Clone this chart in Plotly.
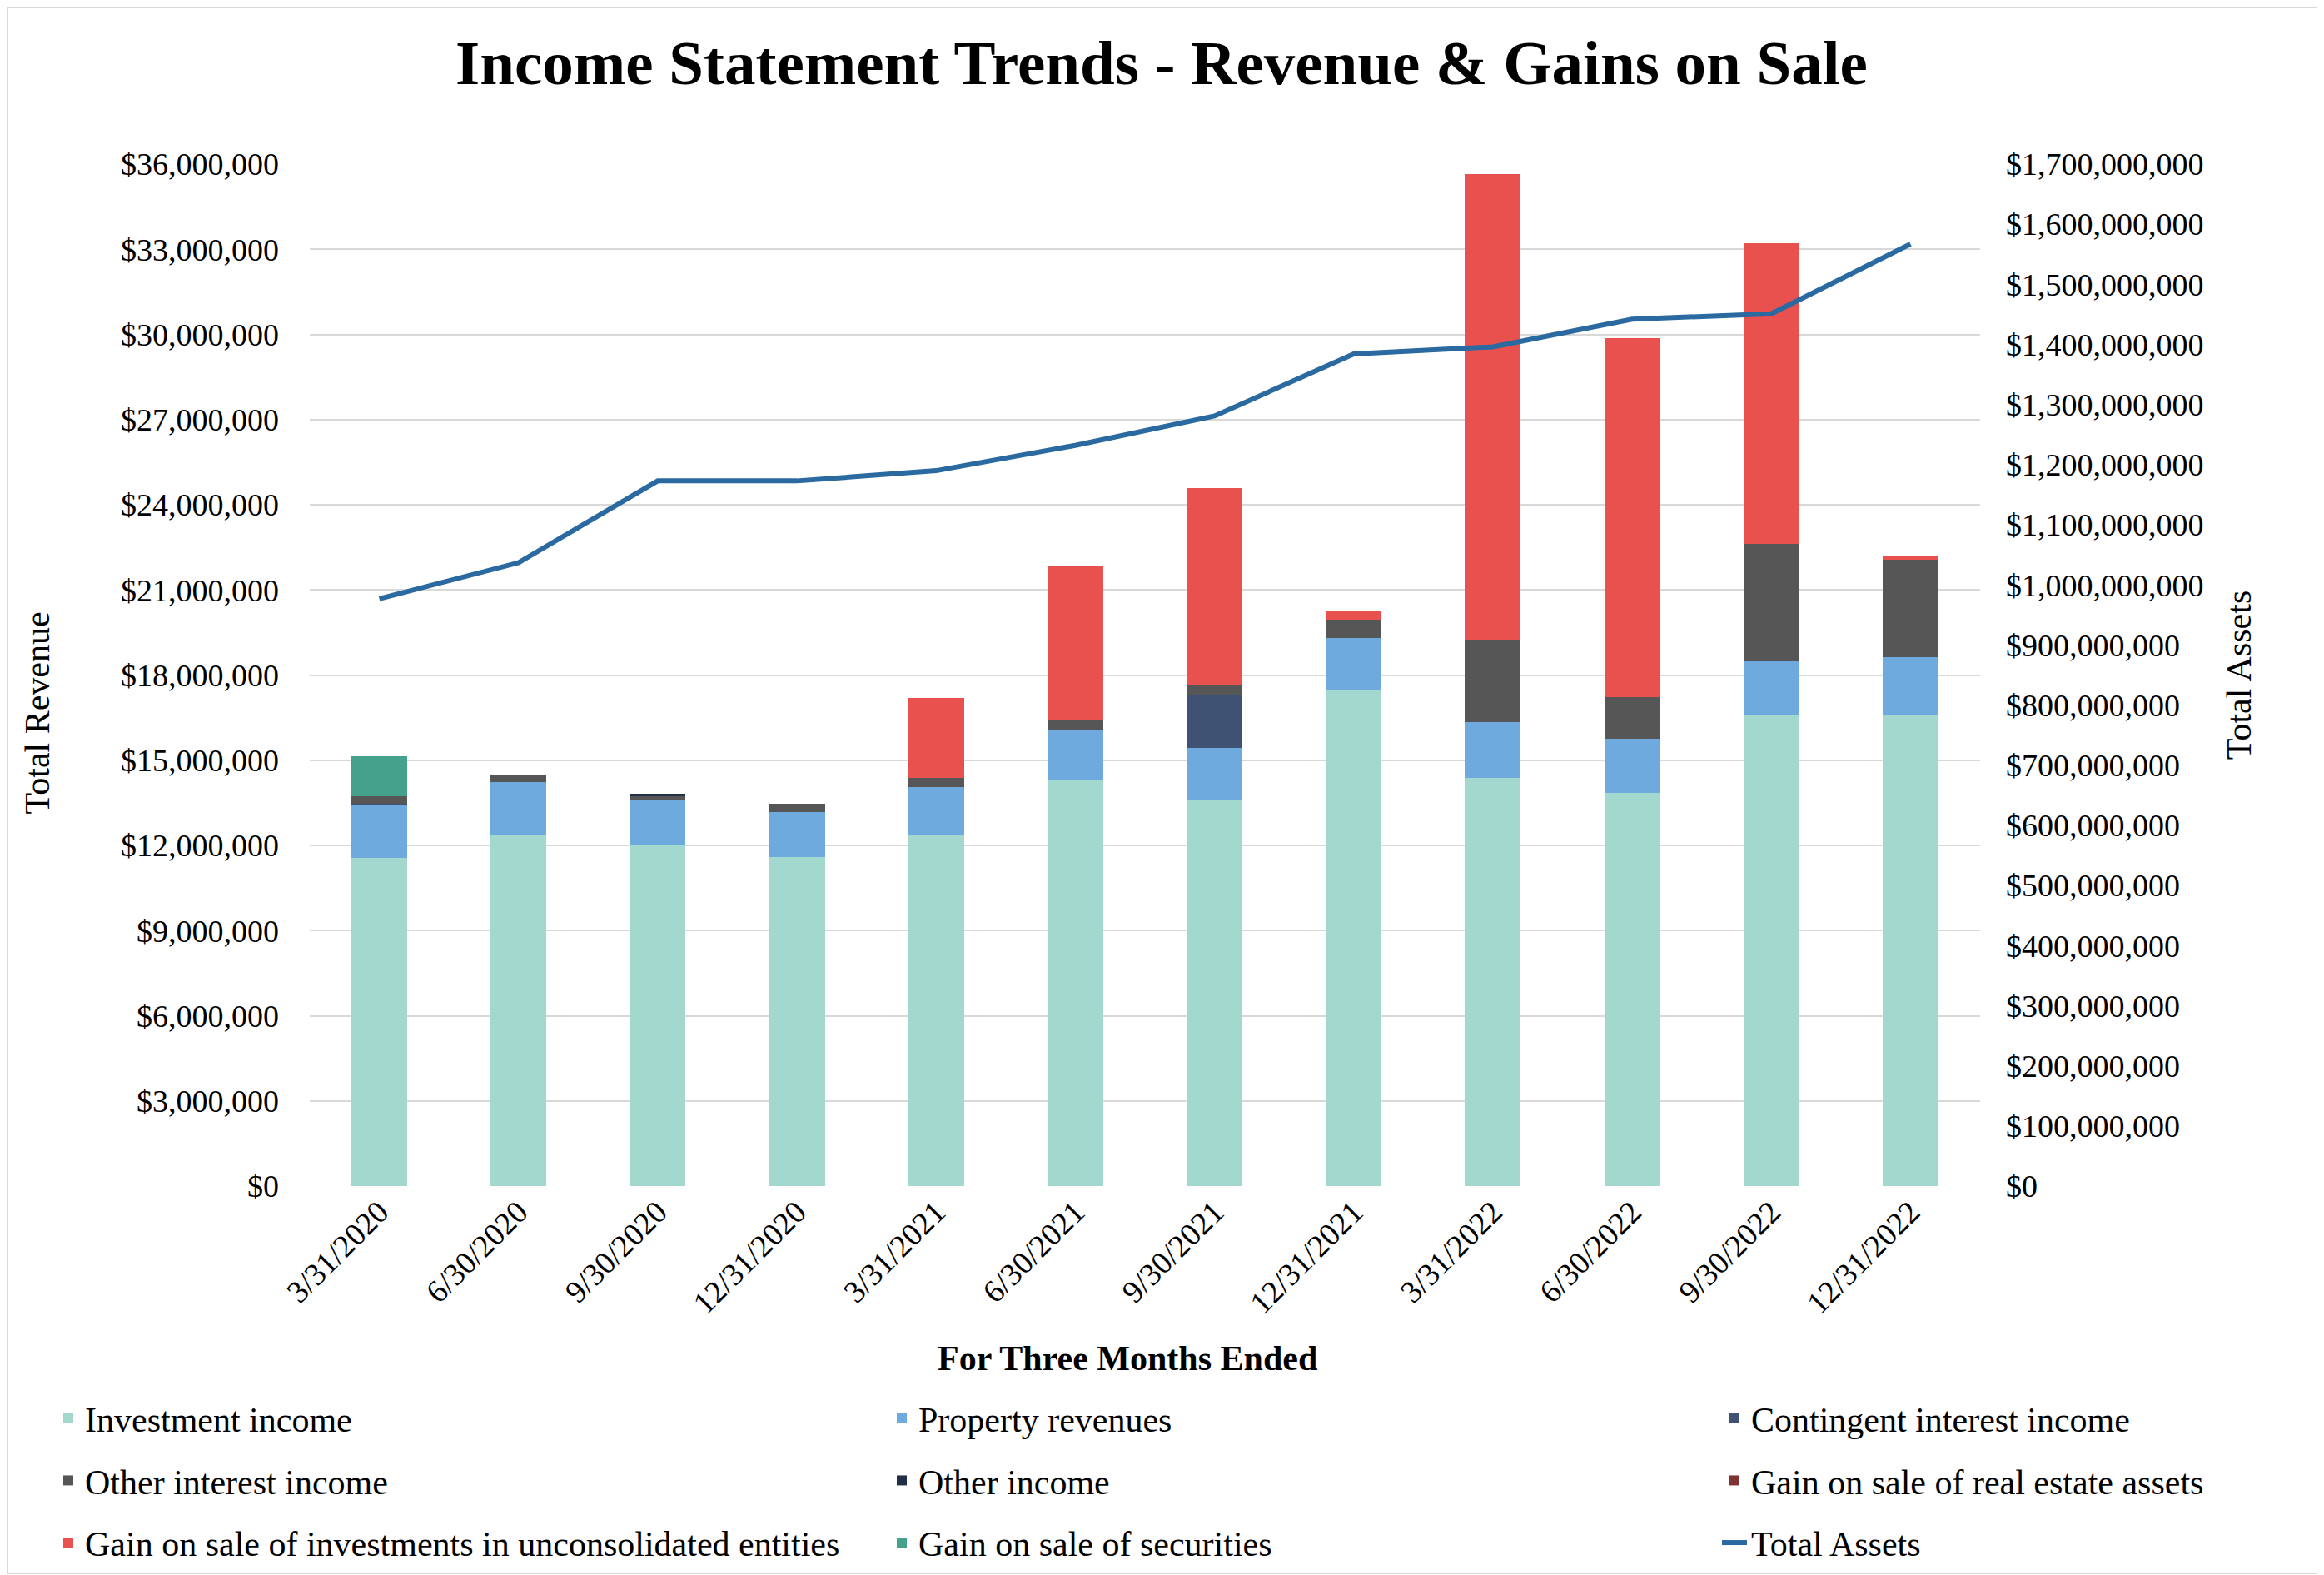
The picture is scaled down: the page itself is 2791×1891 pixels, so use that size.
import plotly.graph_objects as go

quarters = ["3/31/2020", "6/30/2020", "9/30/2020", "12/31/2020", "3/31/2021", "6/30/2021",
            "9/30/2021", "12/31/2021", "3/31/2022", "6/30/2022", "9/30/2022", "12/31/2022"]

investment_income = [11550000, 12390000, 12040000, 11580000, 12390000, 14300000,
                     13620000, 17450000, 14390000, 13840000, 16580000, 16580000]
property_revenues = [1870000, 1840000, 1560000, 1600000, 1670000, 1770000,
                     1820000, 1860000, 1940000, 1930000, 1900000, 2040000]
contingent_interest_income = [50000, 0, 0, 0, 0, 0, 1830000, 0, 0, 0, 0, 0]
other_interest_income = [270000, 240000, 140000, 290000, 320000, 320000,
                         380000, 650000, 2880000, 1460000, 4130000, 3440000]
other_income = [0, 0, 80000, 0, 0, 0, 0, 0, 0, 0, 0, 0]
gain_real_estate = [0, 0, 0, 0, 0, 0, 0, 0, 0, 0, 0, 0]
gain_unconsolidated = [0, 0, 0, 0, 2800000, 5440000, 6950000, 290000,
                       16430000, 12640000, 10590000, 120000]
gain_securities = [1400000, 0, 0, 0, 0, 0, 0, 0, 0, 0, 0, 0]
total_assets = [977e6, 1037e6, 1173e6, 1173e6, 1190e6, 1232e6,
                1281e6, 1384e6, 1396e6, 1442e6, 1451e6, 1567e6]

FONT = "Liberation Serif"
OFF = 8  # default page body margin
W, H = 2791 - OFF, 1891 - OFF
ML, MR, MT, MB = 372 - OFF, 413, 197 - OFF, 467
PW, PH = W - ML - MR, H - MT - MB

bar_series = [
    ("Investment income", investment_income, "#a3d8cf", "legend"),
    ("Property revenues", property_revenues, "#6eaadd", "legend2"),
    ("Contingent interest income", contingent_interest_income, "#3f5274", "legend3"),
    ("Other interest income", other_interest_income, "#565657", "legend"),
    ("Other income", other_income, "#232f47", "legend2"),
    ("Gain on sale of real estate assets", gain_real_estate, "#7f3232", "legend3"),
    ("Gain on sale of investments in unconsolidated entities", gain_unconsolidated, "#e8514d", "legend"),
    ("Gain on sale of securities", gain_securities, "#45a08c", "legend2"),
]

fig = go.Figure()
for i, (name, vals, color, lg) in enumerate(bar_series):
    fig.add_trace(go.Bar(x=quarters, y=vals, name=name, marker_color=color,
                         marker_line_width=0, legend=lg, legendgroup="g%d" % i))

fig.add_trace(go.Scatter(x=quarters, y=total_assets, name="Total Assets", mode="lines",
                         line=dict(color="#2a6aa0", width=6), yaxis="y2",
                         legend="legend3", legendgroup="g_ta"))

legend_common = dict(orientation="v", yanchor="top", xanchor="left", y=-0.1997,
                     font=dict(family=FONT, size=42, color="#000000"),
                     bgcolor="rgba(0,0,0,0)", tracegroupgap=17, itemwidth=30)

fig.update_layout(
    width=W, height=H,
    margin=dict(l=ML, r=MR, t=MT, b=MB, autoexpand=False),
    paper_bgcolor="white", plot_bgcolor="white",
    barmode="stack", bargap=0.6,
    font=dict(family=FONT, size=38, color="#000000"),
    title=dict(text="<b>Income Statement Trends - Revenue &amp; Gains on Sale</b>",
               x=1387 / W, xref="container", xanchor="center",
               y=1 - 67 / H, yref="container", yanchor="middle",
               font=dict(family=FONT, size=75, color="#000000")),
    xaxis=dict(type="category", tickangle=-45, showgrid=False, zeroline=False,
               showline=False, ticks="", tickfont=dict(size=38)),
    yaxis=dict(range=[0, 36e6], dtick=3e6, tick0=0, tickformat="$,.0f",
               showgrid=True, gridcolor="#d9d9d9", gridwidth=2, zeroline=False,
               showline=False, ticks="", ticklabelstandoff=36, tickfont=dict(size=38)),
    yaxis2=dict(range=[0, 1.7e9], dtick=1e8, tick0=0, tickformat="$,.0f",
                overlaying="y", side="right", showgrid=False, zeroline=False,
                showline=False, ticks="", ticklabelstandoff=30, tickfont=dict(size=38),
                title=dict(text="Total Assets", standoff=28, font=dict(size=42))),
    legend=dict(legend_common, x=(54 - ML) / PW),
    legend2=dict(legend_common, x=(1055 - ML) / PW),
    legend3=dict(legend_common, x=(2055 - ML) / PW),
    annotations=[
        dict(text="Total Revenue", xref="paper", yref="paper",
             x=(36.5 - ML) / PW, y=(H - MB - 848) / PH, textangle=-90,
             xanchor="center", yanchor="middle", showarrow=False,
             font=dict(family=FONT, size=42, color="#000000")),
        dict(text="<b>For Three Months Ended</b>", xref="paper", yref="paper",
             x=(1345.7 - ML) / PW, y=(H - MB - 1622.5) / PH,
             xanchor="center", yanchor="middle", showarrow=False,
             font=dict(family=FONT, size=42, color="#000000")),
    ],
    shapes=[dict(type="rect", xref="paper", yref="paper",
                 x0=(1 - ML) / PW, x1=(W - 2 - ML) / PW,
                 y0=-(MB - 2) / PH, y1=1 + (MT - 1) / PH,
                 line=dict(color="#d9d9d9", width=2), fillcolor="rgba(0,0,0,0)",
                 layer="below")],
)

fig.write_html("out.html")
